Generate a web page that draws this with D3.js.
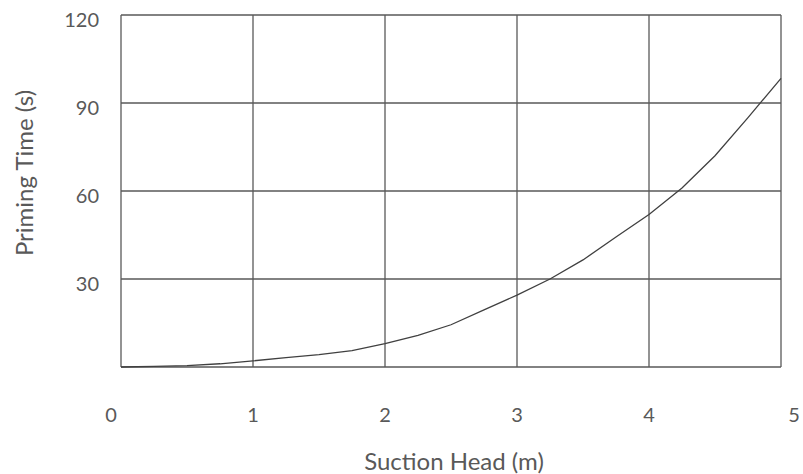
<!DOCTYPE html>
<html lang="en">
  <head>
    <meta charset="UTF-8" />
    <title>Priming Time vs Suction Head</title>
    <script src="https://d3js.org/d3.v7.min.js"></script>
    <style>
      body {
        margin: 0;
        background: #fff;
      }
      svg {
        display: block;
        font-family: Lato, "Open Sans", sans-serif;
      }
      .label {
        fill: #595959;
        font-size: 20px;
      }
      .title {
        fill: #595959;
        font-size: 24px;
      }
    </style>
  </head>
  <body>
    <svg width="803" height="474"></svg>

    <script>
      // suction head (m) and priming time (s)
      const suctionHead = [
        0, 0.25, 0.5, 0.75, 1, 1.25, 1.5, 1.75, 2, 2.25, 2.5, 2.75, 3, 3.25,
        3.5, 3.75, 4, 4.25, 4.5, 4.75, 5,
      ];
      const primingTime = [
        0, 0.2, 0.5, 1.1, 2.1, 3.2, 4.2, 5.6, 8.0, 10.8, 14.4, 19.5, 24.5,
        30.0, 36.5, 44.3, 52.0, 61.0, 72.0, 85.0, 98.4,
      ];
      const xTicks = [0, 1, 2, 3, 4, 5];
      const yTicks = [0, 30, 60, 90, 120];

      const data = suctionHead.map((h, i) => ({ h: h, t: primingTime[i] }));

      const svg = d3.select("svg");
      const margin = { top: 15, right: 22, bottom: 107, left: 121 };
      const width = +svg.attr("width");
      const height = +svg.attr("height");

      const x = d3
        .scaleLinear()
        .domain([0, 5])
        .range([margin.left, width - margin.right]);

      const y = d3
        .scaleLinear()
        .domain([0, 120])
        .range([height - margin.bottom, margin.top]);

      const gridColor = "#595959";

      // horizontal grid
      svg
        .append("g")
        .selectAll("line")
        .data(yTicks)
        .enter()
        .append("line")
        .attr("x1", x(0))
        .attr("x2", x(5))
        .attr("y1", (d) => y(d))
        .attr("y2", (d) => y(d))
        .attr("stroke", gridColor)
        .attr("stroke-width", 1.3);

      // vertical grid
      svg
        .append("g")
        .selectAll("line")
        .data(xTicks)
        .enter()
        .append("line")
        .attr("x1", (d) => x(d))
        .attr("x2", (d) => x(d))
        .attr("y1", y(0))
        .attr("y2", y(120))
        .attr("stroke", gridColor)
        .attr("stroke-width", 1.3);

      // x tick labels
      svg
        .append("g")
        .selectAll("text")
        .data(xTicks)
        .enter()
        .append("text")
        .attr("class", "label")
        .attr("x", (d) => x(d))
        .attr("dx", (d, i) => (i === 0 ? -10 : i === xTicks.length - 1 ? 13 : 0))
        .attr("y", y(0) + 55)
        .attr("text-anchor", "middle")
        .text((d) => d);

      // y tick labels (no 0)
      svg
        .append("g")
        .selectAll("text")
        .data(yTicks.filter((d) => d > 0))
        .enter()
        .append("text")
        .attr("class", "label")
        .attr("x", margin.left - 22)
        .attr("y", (d) => y(d) + 12)
        .attr("text-anchor", "end")
        .text((d) => d);

      // axis titles
      svg
        .append("text")
        .attr("class", "title")
        .attr("x", (x(0) + x(5)) / 2 + 3)
        .attr("y", height - 4)
        .attr("text-anchor", "middle")
        .text("Suction Head (m)");

      svg
        .append("text")
        .attr("class", "title")
        .attr("transform", "translate(33,173) rotate(-90)")
        .attr("text-anchor", "middle")
        .text("Priming Time (s)");

      // curve
      const line = d3
        .line()
        .x((d) => x(d.h))
        .y((d) => y(d.t));

      svg
        .append("path")
        .datum(data)
        .attr("fill", "none")
        .attr("stroke", "#404040")
        .attr("stroke-width", 1.3)
        .attr("d", line);
    </script>
  </body>
</html>
